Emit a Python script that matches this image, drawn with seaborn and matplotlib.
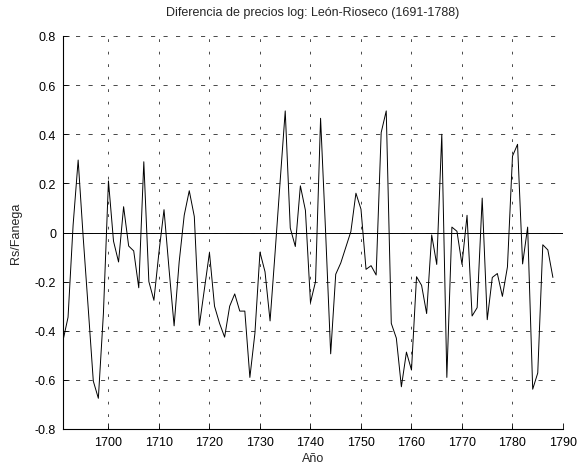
import matplotlib
matplotlib.use("Agg")
import matplotlib.pyplot as plt
import seaborn as sns
import pandas as pd
import numpy as np

years = list(range(1691, 1789))
values = [
    -0.44, -0.345, 0.03, 0.295, -0.02, -0.31, -0.605, -0.675, -0.33, 0.21,   # 1691-1700
    -0.035, -0.12, 0.105, -0.055, -0.075, -0.225, 0.288, -0.2, -0.276, -0.08,  # 1701-1710
    0.093, -0.15, -0.38, -0.12, 0.07, 0.17, 0.065, -0.378, -0.23, -0.082,     # 1711-1720
    -0.30, -0.37, -0.426, -0.30, -0.25, -0.32, -0.32, -0.59, -0.41, -0.08,    # 1721-1730
    -0.16, -0.36, -0.08, 0.21, 0.495, 0.018, -0.057, 0.19, 0.09, -0.285,      # 1731-1740
    -0.2, 0.465, 0.0, -0.494, -0.17, -0.124, -0.06, 0.004, 0.16, 0.095,       # 1741-1750
    -0.15, -0.135, -0.173, 0.407, 0.495, -0.37, -0.43, -0.628, -0.487, -0.56, # 1751-1760
    -0.18, -0.215, -0.33, -0.01, -0.13, 0.40, -0.59, 0.022, 0.005, -0.13,     # 1761-1770
    0.07, -0.34, -0.306, 0.14, -0.355, -0.183, -0.167, -0.26, -0.14, 0.311,   # 1771-1780
    0.359, -0.128, 0.022, -0.638, -0.572, -0.05, -0.071, -0.183,              # 1781-1788
]
xticks = list(range(1700, 1800, 10))
yticks = [0.8, 0.6, 0.4, 0.2, 0.0, -0.2, -0.4, -0.6, -0.8]
ytick_labels = ["0.8", "0.6", "0.4", "0.2", "0", "-0.2", "-0.4", "-0.6", "-0.8"]
title = "Diferencia de precios log: León-Rioseco (1691-1788)"
xlabel = "Año"
ylabel = "Rs/Fanega"

df = pd.DataFrame({"year": years, "value": values})

sns.set_style("white")
plt.rcParams["font.family"] = ["Liberation Sans", "DejaVu Sans"]
plt.rcParams["lines.scale_dashes"] = False

fig = plt.figure(figsize=(5.77, 4.64), dpi=100)
ax = fig.add_axes([63 / 577, 1 - 430 / 464, 500 / 577, 393 / 464])

ax.axhline(0, color="black", lw=0.7, zorder=1)
sns.lineplot(data=df, x="year", y="value", ax=ax, color="black", lw=0.7, zorder=3)

ax.set_xlim(1691, 1790)
ax.set_ylim(-0.8, 0.8)
ax.set_xticks(xticks)
ax.set_xticklabels([str(t) for t in xticks])
ax.set_yticks(yticks)
ax.set_yticklabels(ytick_labels)

ax.grid(True, axis="y", color="black", linestyle=(0, (3, 6)), lw=0.5)
ax.grid(True, axis="x", color="black", linestyle=(0, (2, 7)), lw=0.5)
ax.set_axisbelow(True)
for s in ["top", "right"]:
    ax.spines[s].set_visible(False)
for s in ["left", "bottom"]:
    ax.spines[s].set_visible(True)
    ax.spines[s].set_color("black")
    ax.spines[s].set_linewidth(0.8)

ax.tick_params(direction="in", length=4, width=0.6, colors="black",
               labelsize=9, pad=5, bottom=True, left=True)
ax.set_xlabel(xlabel, fontsize=9, labelpad=3)
ax.set_ylabel(ylabel, fontsize=9, labelpad=9)
ax.set_title(title, fontsize=9, pad=15)

fig.savefig("out.png", dpi=100)
